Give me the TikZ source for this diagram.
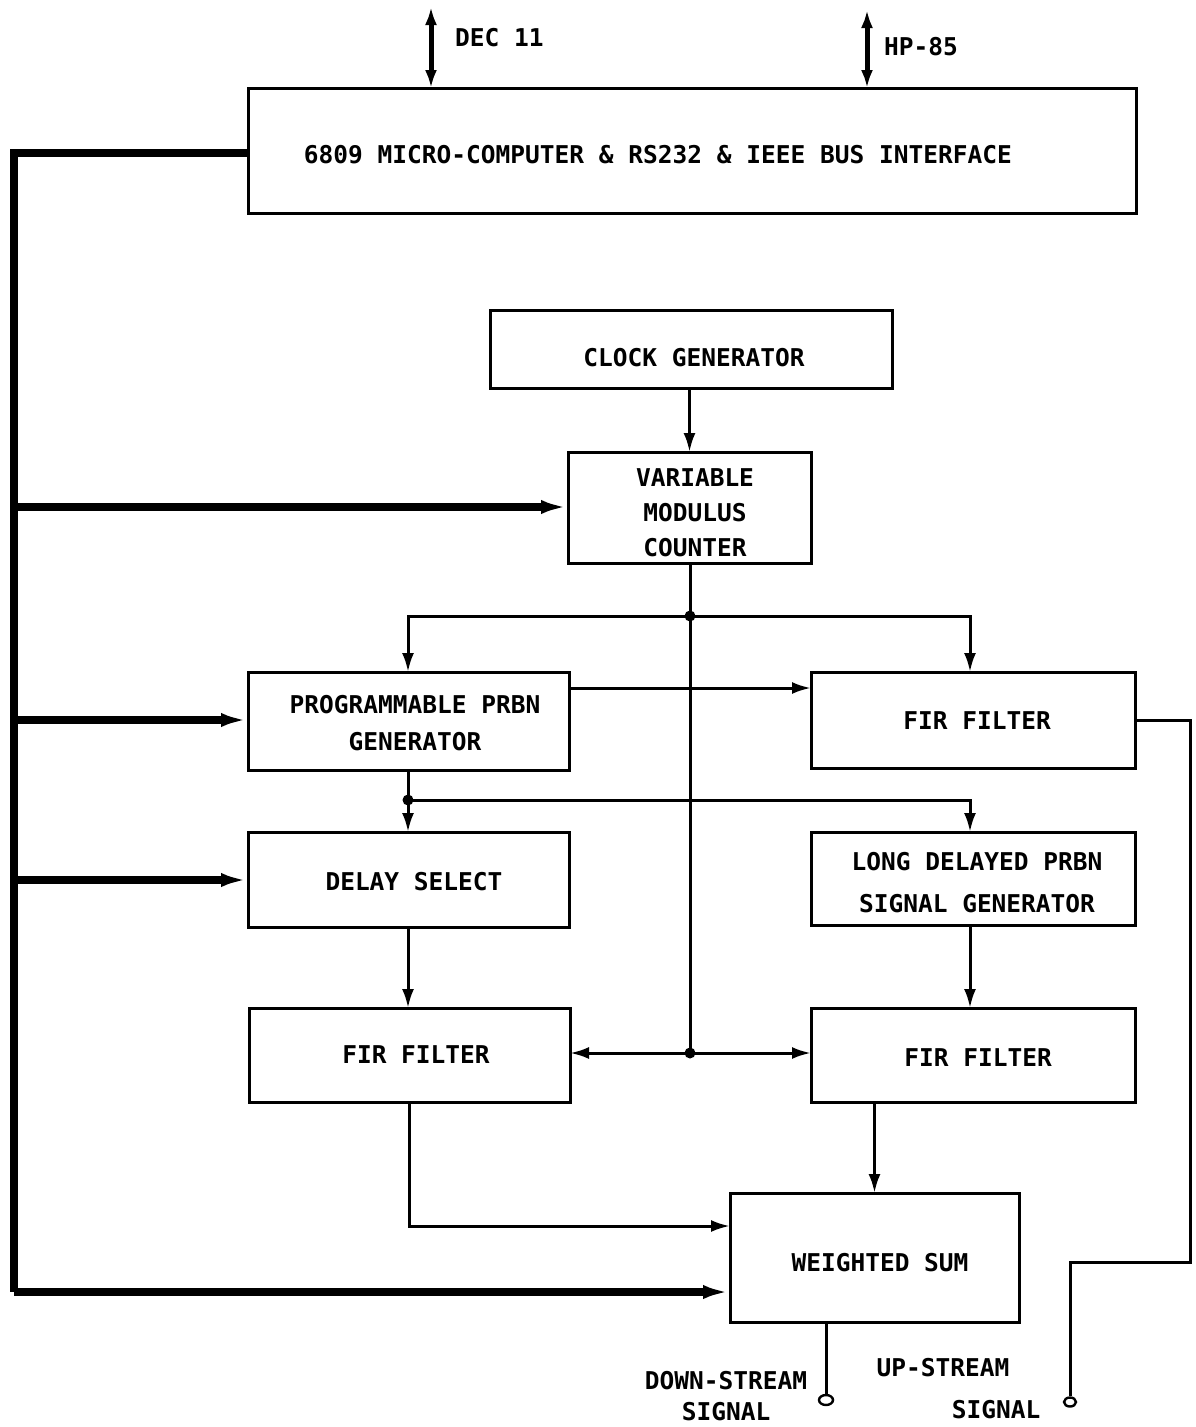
\documentclass[tikz,border=0pt]{standalone}
\usepackage{fontspec}
\newfontfamily\plotfont{DejaVu Sans Mono}
\usetikzlibrary{arrows.meta,calc,shapes.geometric}
\begin{document}
\begin{tikzpicture}[x=1pt,y=-1pt,
  txt/.style={inner sep=0pt,align=center,font=\plotfont\bfseries\fontsize{24.5}{35}\selectfont},
  box/.style={draw,line width=3pt,outer sep=0pt,inner sep=0pt},
  wire/.style={line width=3pt},
  arr/.style={wire,-{Latex[length=19pt,width=12pt]}},
  dbl/.style={line width=5pt,{Latex[length=18pt,width=12pt]}-{Latex[length=18pt,width=12pt]}},
  bus/.style={line width=7.5pt},
  busarr/.style={line width=7.5pt,-{Latex[length=27pt,width=14pt]}},
  dot/.style={circle,fill,inner sep=0pt,minimum size=11pt},
  term/.style={ellipse,draw,line width=2.4pt,inner sep=0pt,minimum width=14pt,minimum height=10pt}]
\useasboundingbox (0,0) rectangle (1195,1427);
\fill[white] (0,0) rectangle (1195,1427);

% boxes
\node[box,minimum width=888,minimum height=125] (top) at (692,150.5) {};
\node[box,minimum width=402,minimum height=78] (clk) at (691,349) {};
\node[box,minimum width=243,minimum height=111] (vmc) at (689.5,507.5) {};
\node[box,minimum width=321,minimum height=98] (prbn) at (408.5,721) {};
\node[box,minimum width=324,minimum height=96] (firT) at (973,720) {};
\node[box,minimum width=321,minimum height=95] (dsel) at (408.5,879.5) {};
\node[box,minimum width=324,minimum height=93] (ldp) at (973,878.5) {};
\node[box,minimum width=321,minimum height=94] (firL) at (409.5,1055) {};
\node[box,minimum width=324,minimum height=94] (firR) at (973,1055) {};
\node[box,minimum width=289,minimum height=129] (ws) at (874.5,1257.5) {};

% box texts
\node[txt] (toptxt) at (658,155) {6809 MICRO-COMPUTER \& RS232 \& IEEE BUS INTERFACE};
\node[txt] (clktxt) at (694,358) {CLOCK GENERATOR};
\node[txt] (vmctxt) at (695,513) {VARIABLE\\MODULUS\\COUNTER};
\node[txt] (prbntxt) at (415,723.5) {PROGRAMMABLE PRBN\\[2pt]GENERATOR};
\node[txt] (firTtxt) at (977,721) {FIR FILTER};
\node[txt] (dseltxt) at (414,882) {DELAY SELECT};
\node[txt] (ldptxt) at (977,883) {LONG DELAYED PRBN\\[7pt]SIGNAL GENERATOR};
\node[txt] (firLtxt) at (416,1055) {FIR FILTER};
\node[txt] (firRtxt) at (978,1058) {FIR FILTER};
\node[txt] (wstxt) at (880,1263) {WEIGHTED SUM};

% top interfaces
\coordinate (decT) at (431,7);
\coordinate (hpT) at (867,10);
\draw[dbl] (decT) -- (top.north -| decT);
\draw[dbl] (hpT) -- (top.north -| hpT);
\node[txt,anchor=west] (dec) at (455,38) {DEC 11};
\node[txt,anchor=west] (hp) at (884,47) {HP-85};

% bus
\coordinate (busT) at (14,153);
\coordinate (busB) at (14,1292);
\coordinate (yvmc) at (0,507);
\coordinate (yprbn) at (0,720);
\coordinate (ydsel) at (0,880);
\draw[bus,line join=miter] (top.west |- busT) -- (busT) -- (busB);
\draw[busarr] (busT |- yvmc) -- (vmc.west |- yvmc);
\draw[busarr] (busT |- yprbn) -- (prbn.west |- yprbn);
\draw[busarr] (busT |- ydsel) -- (dsel.west |- ydsel);
\draw[busarr] (busB) -- (ws.west |- busB);

% clock chain
\draw[arr] (clk.south -| vmc.north) -- (vmc.north);
\node[dot] (j1) at (690,616) {};
\node[dot] (j2) at (408,800) {};
\node[dot] (j3) at (690,1053) {};
\draw[wire] (vmc.south -| j1) -- (j1.center) -- (j3.center);
\draw[arr] (j1.center) -| (prbn.north -| j2);
\draw[arr] (j1.center) -| (firT.north -| 970,0);
\draw[arr] (j3.center) -- (firL.east |- j3);
\draw[arr] (j3.center) -- (firR.west |- j3);

% prbn paths
\coordinate (y688) at (0,688);
\draw[arr] (prbn.east |- y688) -- (firT.west |- y688);
\draw[wire] (prbn.south -| j2) -- (j2.center);
\draw[arr] (j2.center) -- (dsel.north -| j2);
\draw[arr] (j2.center) -| (ldp.north -| 970,0);
\draw[arr] (dsel.south -| j2) -- (firL.north -| j2);
\draw[arr] (ldp.south -| 970,0) -- (firR.north -| 970,0);

% to weighted sum
\coordinate (y1226) at (0,1226);
\draw[arr] (firL.south) |- (ws.west |- y1226);
\draw[arr] (firR.south -| ws.north) -- (ws.north);

% outputs
\node[term] (dsout) at (826,1400) {};
\node[term,minimum width=12pt,minimum height=9pt] (usout) at (1070,1402) {};
\draw[wire] (ws.south -| dsout) -- (dsout.north);
\coordinate (rr1) at (1190,720);
\coordinate (rr2) at (1190,1262);
\draw[wire,line join=miter] (firT.east) -- (rr1) -- (rr2) -- (rr2 -| usout) -- (usout.north);

\node[txt] (dslab) at (726,1396) {DOWN-STREAM\\[-4pt]SIGNAL};
\node[txt] (uslab1) at (943,1368) {UP-STREAM};
\node[txt] (uslab2) at (996,1410) {SIGNAL};
\end{tikzpicture}
\end{document}
